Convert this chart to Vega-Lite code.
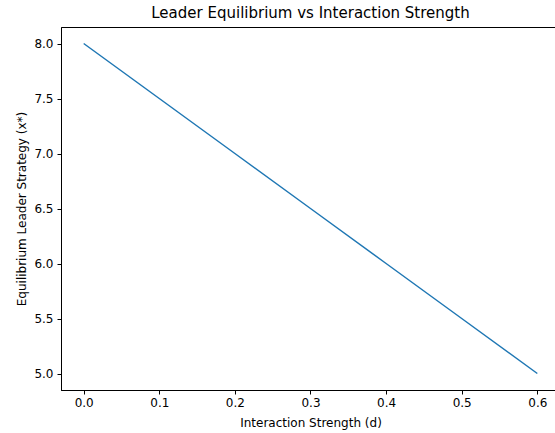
{
  "$schema": "https://vega.github.io/schema/vega-lite/v6.json",
  "width": 499,
  "height": 363,
  "autosize": {"type": "none"},
  "padding": {"left": 61, "top": 27, "right": 0, "bottom": 43},
  "background": "white",
  "title": {"text": "Leader Equilibrium vs Interaction Strength", "font": "DejaVu Sans", "fontSize": 15, "fontWeight": "normal", "color": "black", "anchor": "middle", "offset": 6},
  "config": {
    "view": {"stroke": "black", "strokeWidth": 1},
    "axis": {
      "grid": false,
      "domainColor": "black",
      "domainWidth": 1,
      "tickColor": "black",
      "tickSize": 4,
      "tickWidth": 1,
      "labelFont": "DejaVu Sans",
      "labelFontSize": 12,
      "labelColor": "black",
      "labelFlush": false,
      "labelOverlap": false,
      "titleFont": "DejaVu Sans",
      "titleFontSize": 12,
      "titleFontWeight": "normal",
      "titleColor": "black"
    }
  },
  "data": {"values": [
    {"d": 0.0, "x": 8.0},
    {"d": 0.1, "x": 7.5},
    {"d": 0.2, "x": 7.0},
    {"d": 0.3, "x": 6.5},
    {"d": 0.4, "x": 6.0},
    {"d": 0.5, "x": 5.5},
    {"d": 0.6, "x": 5.0}
  ]},
  "mark": {"type": "line", "color": "#1f77b4", "strokeWidth": 1.5},
  "encoding": {
    "x": {
      "field": "d", "type": "quantitative",
      "scale": {"domain": [-0.03, 0.63], "nice": false, "zero": false},
      "axis": {"values": [0, 0.1, 0.2, 0.3, 0.4, 0.5, 0.6], "format": ".1f", "title": "Interaction Strength (d)", "labelPadding": 3, "titlePadding": 9}
    },
    "y": {
      "field": "x", "type": "quantitative",
      "scale": {"domain": [4.85, 8.15], "nice": false, "zero": false},
      "axis": {"values": [5, 5.5, 6, 6.5, 7, 7.5, 8], "format": ".1f", "title": "Equilibrium Leader Strategy (x*)", "labelPadding": 4, "titlePadding": 5}
    }
  }
}
